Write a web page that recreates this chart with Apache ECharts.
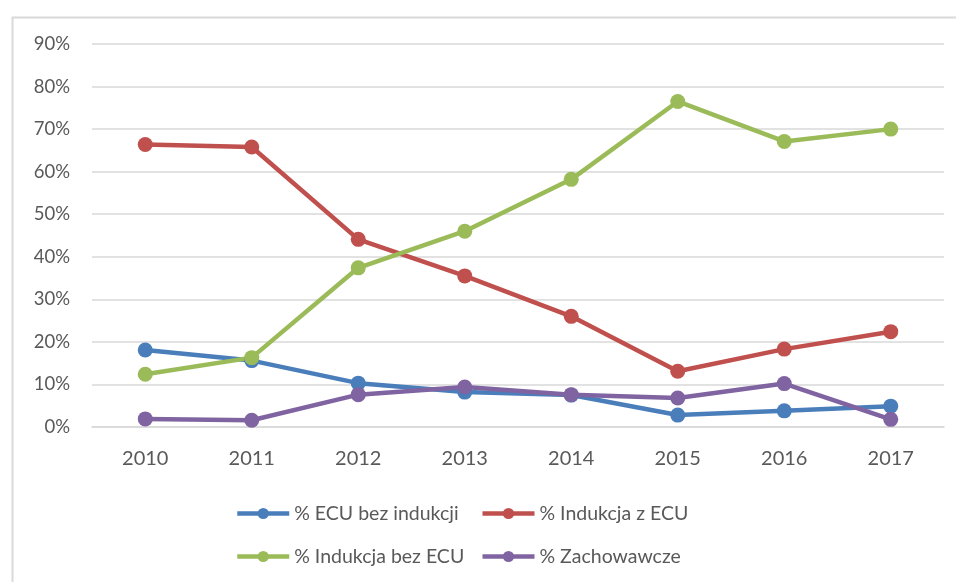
<!DOCTYPE html>
<html>
<head>
<meta charset="utf-8">
<script src="https://cdn.jsdelivr.net/npm/echarts@6/dist/echarts.min.js"></script>
<style>
  html, body { margin: 0; padding: 0; background: #fff; }
  #chart { width: 956px; height: 582px; }
</style>
</head>
<body>
<div id="chart"></div>
<script>
const years = ['2010', '2011', '2012', '2013', '2014', '2015', '2016', '2017']
const ecuBezIndukcji = [18.1, 15.6, 10.3, 8.2, 7.5, 2.8, 3.8, 4.9]
const indukcjaZEcu = [66.4, 65.8, 44.1, 35.5, 26.0, 13.1, 18.3, 22.4]
const indukcjaBezEcu = [12.4, 16.3, 37.4, 46.0, 58.2, 76.5, 67.1, 70.0]
const zachowawcze = [1.9, 1.6, 7.6, 9.4, 7.6, 6.8, 10.2, 1.8]

const chart = echarts.init(document.getElementById('chart'))

const mkSeries = (name, data, color) => ({
  name: name,
  type: 'line',
  data: data,
  symbol: 'circle',
  symbolSize: 15,
  color: color,
  lineStyle: { width: 4.5, color: color },
  itemStyle: { color: color }
})

const option = {
  animation: false,
  textStyle: { fontFamily: 'Lato' },
  graphic: [{
    type: 'rect',
    left: 10,
    top: 15,
    shape: { width: 980, height: 600 },
    style: { fill: 'none', stroke: '#d9d9d9', lineWidth: 2 },
    silent: true
  }],
  grid: { left: 92, right: 12, top: 44, bottom: 155 },
  legend: {
    left: 235,
    top: 497,
    width: 490,
    padding: 0,
    itemWidth: 52,
    itemHeight: 14,
    itemGap: 10,
    lineStyle: { width: 4.5 },
    textStyle: { fontSize: 19.5, color: '#595959', width: 176, lineHeight: 33 }
  },
  xAxis: {
    type: 'category',
    data: years,
    axisLine: { show: true, lineStyle: { color: '#d9d9d9', width: 1.5 } },
    axisTick: { show: false },
    axisLabel: { fontSize: 20, color: '#595959', margin: 22 }
  },
  yAxis: {
    type: 'value',
    min: 0,
    max: 90,
    interval: 10,
    axisLine: { show: false },
    axisTick: { show: false },
    axisLabel: { formatter: '{value}%', fontSize: 18.5, color: '#595959', margin: 22 },
    splitLine: { lineStyle: { color: '#d9d9d9', width: 1.5 } }
  },
  series: [
    mkSeries('% ECU bez indukcji', ecuBezIndukcji, '#4a7ebb'),
    mkSeries('% Indukcja z ECU', indukcjaZEcu, '#c0504d'),
    mkSeries('% Indukcja bez ECU', indukcjaBezEcu, '#9bbb59'),
    mkSeries('% Zachowawcze', zachowawcze, '#8064a2')
  ]
}

chart.setOption(option)
</script>
</body>
</html>
